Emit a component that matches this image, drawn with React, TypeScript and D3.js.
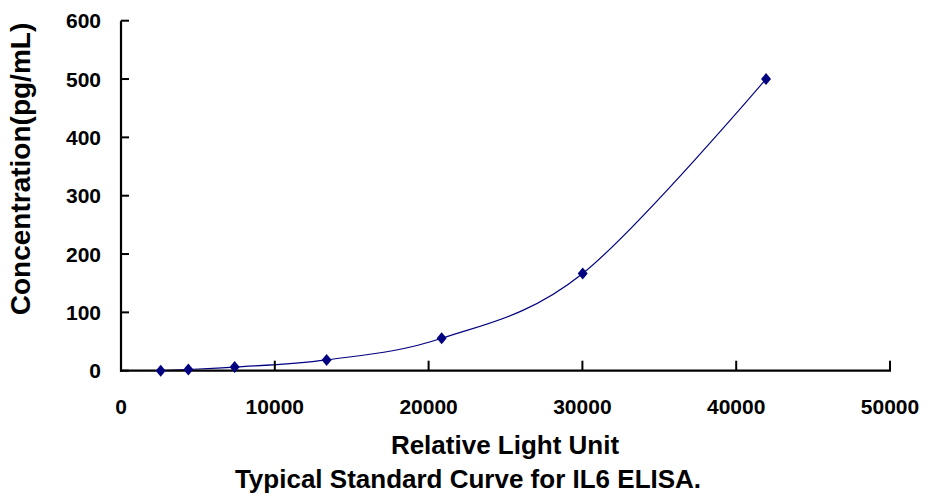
import React from "react";
import * as d3 from "d3";

const rlu = [2580, 4380, 7390, 13370, 20850, 30020, 41940];
const concentration = [0, 2.1, 6.2, 18.5, 55.6, 166.7, 500];
const xTicks = [0, 10000, 20000, 30000, 40000, 50000];
const yTicks = [0, 100, 200, 300, 400, 500, 600];

const W = 930;
const H = 502;
const FONT = "'Liberation Sans', Arial, sans-serif";
const NAVY = "#000080";

export default function App() {
  const x = d3.scaleLinear().domain([0, 50000]).range([121, 890]);
  const y = d3.scaleLinear().domain([0, 600]).range([370.7, 20.7]);
  const pts: [number, number][] = rlu.map((v, i) => [x(v), y(concentration[i])]);
  const line = d3.line().curve(d3.curveCatmullRom.alpha(0))(pts) || "";
  const diamond = (cx: number, cy: number) =>
    `M${cx},${cy - 6}L${cx + 5},${cy}L${cx},${cy + 6}L${cx - 5},${cy}Z`;

  return (
    <svg width={W} height={H} style={{ position: "absolute", left: 0, top: 0, background: "#fff" }}>
      <rect x={0} y={0} width={W} height={H} fill="#fff" />
      <path d={line} fill="none" stroke={NAVY} strokeWidth={1.2} />
      <line x1={121} x2={121} y1={y(600)} y2={y(0) + 1} stroke="#000" strokeWidth={2.2} />
      <line x1={120} x2={x(50000) + 1} y1={y(0)} y2={y(0)} stroke="#000" strokeWidth={2.2} />
      {yTicks.map((t) => (
        <g key={"y" + t}>
          <line x1={121} x2={129} y1={y(t)} y2={y(t)} stroke="#000" strokeWidth={2} />
          <text x={101} y={y(t)} dy="0.36em" textAnchor="end" fontFamily={FONT} fontWeight="bold" fontSize={21} fill="#000">
            {t}
          </text>
        </g>
      ))}
      {xTicks.map((t) => (
        <g key={"x" + t}>
          <line x1={x(t)} x2={x(t)} y1={y(0)} y2={y(0) - 10} stroke="#000" strokeWidth={2} />
          <text x={x(t)} y={406} dy="0.36em" textAnchor="middle" fontFamily={FONT} fontWeight="bold" fontSize={21} fill="#000">
            {t}
          </text>
        </g>
      ))}
      {pts.map(([cx, cy], i) => (
        <path key={"m" + i} d={diamond(cx, cy)} fill={NAVY} />
      ))}
      <text x={505} y={445} dy="0.36em" textAnchor="middle" fontFamily={FONT} fontWeight="bold" fontSize={26} fill="#000">
        Relative Light Unit
      </text>
      <text x={468} y={479} dy="0.36em" textAnchor="middle" fontFamily={FONT} fontWeight="bold" fontSize={26} fill="#000">
        Typical Standard Curve for IL6 ELISA.
      </text>
      <text
        transform={`translate(20,169) rotate(-90)`}
        dy="0.36em"
        textAnchor="middle"
        fontFamily={FONT}
        fontWeight="bold"
        fontSize={28}
        fill="#000"
      >
        Concentration(pg/mL)
      </text>
    </svg>
  );
}
